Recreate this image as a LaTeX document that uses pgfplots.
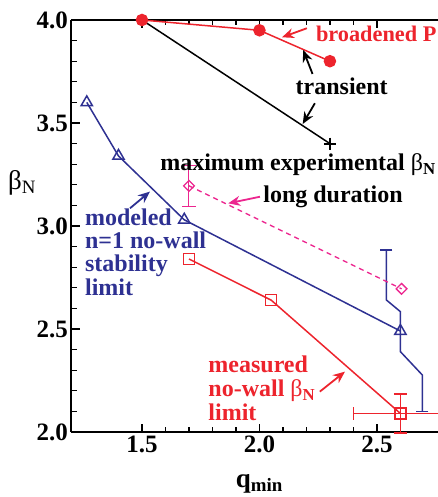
\documentclass[border=0pt]{standalone}
\usepackage{pgfplots}
\pgfplotsset{compat=1.18}
\usepackage{fontspec}
\setmainfont{Liberation Serif}
\usetikzlibrary{arrows.meta}
\definecolor{cred}{RGB}{237,36,45}
\definecolor{cblue}{RGB}{46,49,146}
\definecolor{cmag}{RGB}{236,38,143}
\newcommand\bN{{\mdseries β}\textsubscript{N}}
\begin{document}
\begin{tikzpicture}[ann/.style={font=\fontsize{24}{24}\selectfont\bfseries, inner sep=0pt},
  arr/.style={line width=1.8pt, -{Stealth[length=12pt,width=10pt]}}]
\begin{axis}[
  scale only axis, width=366.5pt, height=412pt,
  xmin=1.2, xmax=2.76, ymin=2.0, ymax=4.0,
  axis x line*=box, axis y line*=left,
  xtick={1.5,2.0,2.5}, ytick={2.0,2.5,3.0,3.5,4.0},
  minor x tick num=4, minor y tick num=4,
  xtick pos=both, ytick pos=left, tick align=inside,
  major tick length=8pt, minor tick length=5pt,
  axis line style={line width=2pt},
  every tick/.style={line width=1.3pt, black},
  tick label style={font=\fontsize{25}{25}\selectfont\bfseries},
  /pgf/number format/assume math mode=true,
  /pgf/number format/fixed, /pgf/number format/fixed zerofill, /pgf/number format/precision=1,
  clip=false,
]
\coordinate (SW) at (rel axis cs:0,0);
\coordinate (NE) at (rel axis cs:1,1);
% transient (black)
\addplot[black, line width=1.5pt, mark=+, mark indices={2}, mark size=6pt, mark options={line width=2pt}] coordinates {(1.5,4.0)(2.3,3.4)};
% broadened (red filled circles)
\addplot[cred, line width=1.5pt, mark=*, mark size=5.5pt] coordinates {(1.5,4.0)(2.0,3.95)(2.3,3.8)};
% modeled no-wall limit (blue triangles)
\addplot[cblue, line width=1.5pt, mark=triangle, mark size=6.5pt, mark options={solid}] coordinates {(1.265,3.60)(1.4,3.34)(1.68,3.03)(2.6,2.49)};
\addplot[cblue, line width=1.5pt, mark=-, mark indices={1,6}, mark size=6pt] coordinates {(2.54,2.883)(2.54,2.641)(2.60,2.584)(2.60,2.39)(2.693,2.277)(2.693,2.10)};
% long duration (magenta diamonds)
\addplot[cmag, line width=1.3pt, dash pattern=on 5pt off 4pt, mark=square, mark size=3.8pt, mark options={solid, rotate=45}] coordinates {(1.7,3.195)(2.605,2.695)};
\addplot[draw=none, mark=none, error bars/.cd, y dir=both, y explicit, error bar style={cmag, solid, line width=1pt}, error mark options={cmag, line width=1pt, mark size=7pt, rotate=90}] coordinates {(1.7,3.195) +- (0,0.1)};
% measured no-wall limit (red squares)
\addplot[cred, line width=1.5pt, mark=square, mark size=5.5pt, mark options={solid}] coordinates {(1.7,2.84)(2.05,2.64)(2.6,2.09)};
\addplot[draw=none, mark=none, error bars/.cd, x dir=both, x explicit, y dir=both, y explicit, error bar style={cred, solid, line width=1.5pt}, error mark options={cred, line width=1.5pt, mark size=6.5pt, rotate=90}] coordinates {(2.6,2.09) +- (0.2,0.095)};
% annotations
\node[ann, cred, anchor=base west, font=\fontsize{22.3}{22.3}\selectfont\bfseries] at (axis cs:2.24,3.895) {broadened P};
\draw[arr, cred] (axis cs:2.202,3.96) -- (axis cs:2.096,3.916);
\node[ann, black, anchor=base] at (axis cs:2.35,3.636) {transient};
\draw[arr, black] (axis cs:2.226,3.738) -- (axis cs:2.186,3.854);
\draw[arr, black] (axis cs:2.236,3.596) -- (axis cs:2.184,3.495);
\node[ann, black, anchor=base west] at (axis cs:1.577,3.268) {maximum experimental \bN};
\node[ann, black, anchor=base west] at (axis cs:2.016,3.113) {long duration};
\draw[arr, cmag] (axis cs:2.002,3.142) -- (axis cs:1.867,3.110);
\node[ann, cblue, anchor=base west] at (axis cs:1.257,3.0015) {modeled};
\node[ann, cblue, anchor=base west] at (axis cs:1.257,2.892) {n=1 no-wall};
\node[ann, cblue, anchor=base west] at (axis cs:1.257,2.778) {stability};
\node[ann, cblue, anchor=base west] at (axis cs:1.257,2.665) {limit};
\draw[arr, cblue] (axis cs:1.449,3.086) -- (axis cs:1.534,3.167);
\node[ann, cred, anchor=base west] at (axis cs:1.782,2.288) {measured};
\node[ann, cred, anchor=base west] at (axis cs:1.782,2.171) {no-wall \bN};
\node[ann, cred, anchor=base west] at (axis cs:1.782,2.058) {limit};
\draw[arr, cred] (axis cs:2.257,2.196) -- (axis cs:2.364,2.293);
% axis labels
\node[inner sep=0pt, anchor=center, font=\fontsize{27}{27}\selectfont] at ([xshift=-49.5pt]axis cs:1.2,3.21) {β\textsubscript{N}};
\node[inner sep=0pt, anchor=base, font=\fontsize{27}{27}\selectfont\bfseries] at ([yshift=-55pt]axis cs:2.0,2.0) {q\textsubscript{min}};
\end{axis}
\pgfresetboundingbox
\path[use as bounding box] ([xshift=-71.5pt, yshift=-65pt]SW) rectangle ([yshift=20pt]NE);
\end{tikzpicture}
\end{document}
